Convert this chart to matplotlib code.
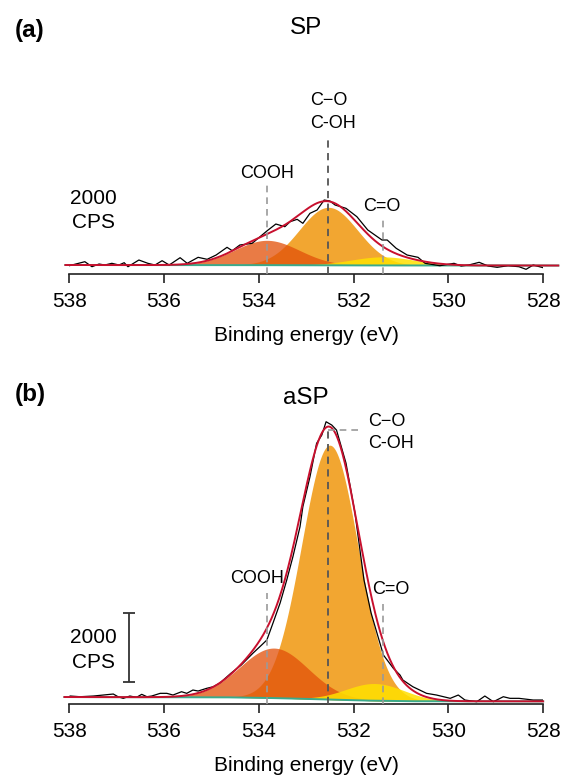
import numpy as np
import matplotlib.pyplot as plt

plt.rcParams['font.family'] = ['Liberation Sans', 'DejaVu Sans']

# raw O 1s spectra (binding energy in eV, counts per second)
sp_energy = [538.00, 537.67, 537.52, 537.37, 537.25, 537.10, 536.95, 536.84, 536.76, 536.53,
             536.34, 536.19, 536.04, 535.89, 535.66, 535.51, 535.28, 535.09, 534.90, 534.67,
             534.56, 534.40, 534.14, 533.83, 533.64, 533.45, 533.34, 533.19, 533.07, 532.92,
             532.77, 532.62, 532.50, 532.39, 532.16, 531.93, 531.70, 531.40, 531.29, 531.10,
             530.87, 530.64, 530.49, 530.18, 529.88, 529.73, 529.57, 529.35, 529.16, 528.97,
             528.74, 528.51, 528.36, 528.21, 528.00]
sp_counts = [2980, 3096, 2951, 3029, 3000, 3049, 3000, 3067, 2951, 3145,
             3049, 3000, 3125, 3000, 3212, 3049, 3223, 3165, 3290, 3513,
             3415, 3580, 3629, 3986, 4189, 4111, 4256, 4325, 4209, 4499,
             4595, 4885, 4856, 4740, 4644, 4401, 4015, 3725, 3725, 3484,
             3290, 3223, 3049, 2980, 3049, 2971, 3000, 3078, 2971, 2933,
             2980, 2951, 2875, 3000, 2922]

asp_energy = [537.98, 537.77, 537.49, 537.28, 537.07, 536.97, 536.86, 536.72, 536.58, 536.47,
              536.36, 536.26, 536.08, 535.94, 535.81, 535.63, 535.52, 535.39, 535.28, 535.10,
              534.96, 534.82, 534.59, 534.37, 534.12, 533.94, 533.83, 533.70, 533.55, 533.41,
              533.28, 533.13, 533.07, 532.92, 532.78, 532.67, 532.58, 532.46, 532.36, 532.16,
              531.97, 531.78, 531.63, 531.37, 531.16, 531.02, 530.96, 530.75, 530.46, 530.25,
              529.96, 529.79, 529.65, 529.40, 529.23, 529.05, 528.84, 528.70, 528.51, 528.21,
              528.00]
asp_counts = [3029, 3009, 3029, 3058, 3087, 3009, 2962, 3029, 2991, 3078,
              3009, 3029, 3107, 3107, 3058, 3154, 3107, 3203, 3174, 3252,
              3299, 3406, 3687, 3928, 4276, 4508, 4653, 5146, 5726, 6393,
              7069, 7939, 8519, 9389, 10357, 10598, 10984, 10888, 10743, 9786,
              8336, 6393, 5436, 4218, 3832, 3638, 3493, 3299, 3107, 3058,
              2962, 3058, 2913, 2864, 3029, 2864, 3009, 2962, 2962, 2913,
              2913]

# fitted components (COOH, C-O/C-OH, C=O): centre eV, height above background CPS, FWHM eV
sp_centres = [533.83, 532.53, 531.38]
sp_heights = [720, 1680, 250]
sp_fwhm = [1.6, 1.45, 1.6]
asp_centres = [533.68, 532.50, 531.55]
asp_heights = [1450, 7380, 500]
asp_fwhm = [1.7, 1.4, 1.45]

# background lines
sp_bg_energy = [538.0, 533.0, 531.0, 528.0]
sp_bg_counts = [3000, 2995, 2985, 2985]
asp_bg_energy = [538.0, 534.5, 533.5, 532.5, 531.5, 530.5, 528.0]
asp_bg_counts = [3000, 2990, 2965, 2925, 2890, 2875, 2875]

# marker positions of the three species
mark_energy = [533.83, 532.53, 531.38]

comp_colors = ['#e2510a', '#f2a631', '#ffe000']
comp_alpha = [0.76, 1.0, 0.85]


def gauss(x, c, h, w):
    return h * np.exp(-4 * np.log(2) * (x - c) ** 2 / w ** 2)


def draw(ax, energy, counts, centres, heights, fwhm, bg_e, bg_c, x_hi, x_lo):
    x = np.linspace(x_lo, x_hi, 800)
    bg = np.interp(x, bg_e[::-1], bg_c[::-1])
    comps = [gauss(x, c, h, w) for c, h, w in zip(centres, heights, fwhm)]
    for i in [1, 0, 2]:
        ax.fill_between(x, bg, bg + comps[i], color=comp_colors[i], alpha=comp_alpha[i],
                        lw=0, zorder=2, clip_on=False)
    ax.plot(x, bg, color='#3aaa8c', lw=1.4, zorder=3, clip_on=False)
    ax.plot(energy, counts, color='black', lw=0.9, zorder=4)
    ax.plot(x, bg + sum(comps), color='#c8102e', lw=1.4, zorder=5, clip_on=False)


def style(ax, ylo, yhi):
    ax.set_xlim(538, 528)
    ax.set_ylim(ylo, yhi)
    for s in ['left', 'right', 'top']:
        ax.spines[s].set_visible(False)
    ax.spines['bottom'].set_linewidth(1.2)
    ax.spines['bottom'].set_color('#222222')
    ax.set_yticks([])
    ax.set_xticks([538, 536, 534, 532, 530, 528])
    ax.tick_params(axis='x', direction='out', length=6.5, width=1.2, color='#222222',
                   labelsize=15, pad=6.5)
    ax.set_xlabel('Binding energy (eV)', fontsize=15, labelpad=11)
    ax.patch.set_alpha(0)


fig = plt.figure(figsize=(5.65, 7.8), dpi=100)
axA = fig.add_axes([0.1225, 0.6487, 0.8388, 0.2359])
axB = fig.add_axes([0.1225, 0.0974, 0.8388, 0.3833])

# (a) SP
draw(axA, sp_energy, sp_counts, sp_centres, sp_heights, sp_fwhm,
     sp_bg_energy, sp_bg_counts, 538.08, 527.68)
ya0 = 2739
style(axA, ya0, 8075)
axA.plot([mark_energy[0]] * 2, [ya0, 5407], ls=(0, (4, 3)), color='#9a9a9a', lw=1.2, zorder=6)
axA.plot([mark_energy[1]] * 2, [ya0, 6770], ls=(0, (4, 3)), color='#555555', lw=1.3, zorder=6)
axA.plot([mark_energy[2]] * 2, [ya0, 4363], ls=(0, (4, 3)), color='#9a9a9a', lw=1.2, zorder=6)
axA.text(533.82, 5668, 'COOH', fontsize=13, ha='center', va='center')
axA.text(532.91, 7785, 'C\u2212O', fontsize=13, ha='left', va='center')
axA.text(532.91, 7118, 'C-OH', fontsize=13, ha='left', va='center')
axA.text(531.40, 4711, 'C=O', fontsize=13, ha='center', va='center')
axA.text(537.48, 4943, '2000', fontsize=15, ha='center', va='center')
axA.text(537.48, 4247, 'CPS', fontsize=15, ha='center', va='center')

# (b) aSP
draw(axB, asp_energy, asp_counts, asp_centres, asp_heights, asp_fwhm,
     asp_bg_energy, asp_bg_counts, 538.1, 528.0)
yb0 = 2797
style(axB, yb0, 11468)
axB.plot([mark_energy[0]] * 2, [yb0, 6016], ls=(0, (4, 3)), color='#9a9a9a', lw=1.2, zorder=6)
axB.plot([mark_energy[1]] * 2, [yb0, 10743], ls=(0, (4, 3)), color='#555555', lw=1.3, zorder=6)
axB.plot([mark_energy[1], 531.82], [10743, 10743], ls=(0, (4, 3)), color='#9a9a9a', lw=1.2, zorder=6)
axB.plot([mark_energy[2]] * 2, [yb0, 5726], ls=(0, (4, 3)), color='#9a9a9a', lw=1.2, zorder=6)
axB.text(534.03, 6451, 'COOH', fontsize=13, ha='center', va='center')
axB.text(531.70, 11004, 'C\u2212O', fontsize=13, ha='left', va='center')
axB.text(531.70, 10366, 'C-OH', fontsize=13, ha='left', va='center')
axB.text(531.21, 6132, 'C=O', fontsize=13, ha='center', va='center')
axB.errorbar([536.74], [4435], yerr=[1000], color='#333333', lw=1.3, capsize=4, capthick=1.3)
axB.text(537.48, 4740, '2000', fontsize=15, ha='center', va='center')
axB.text(537.48, 4015, 'CPS', fontsize=15, ha='center', va='center')

fig.text(306 / 565, 1 - 28 / 780, 'SP', fontsize=17.5, ha='center', va='center')
fig.text(306 / 565, 1 - 398 / 780, 'aSP', fontsize=17.5, ha='center', va='center')
fig.text(30 / 565, 1 - 30 / 780, '(a)', fontsize=17.5, fontweight='bold', ha='center', va='center')
fig.text(30 / 565, 1 - 395 / 780, '(b)', fontsize=17.5, fontweight='bold', ha='center', va='center')

fig.savefig('out.png', dpi=100)
